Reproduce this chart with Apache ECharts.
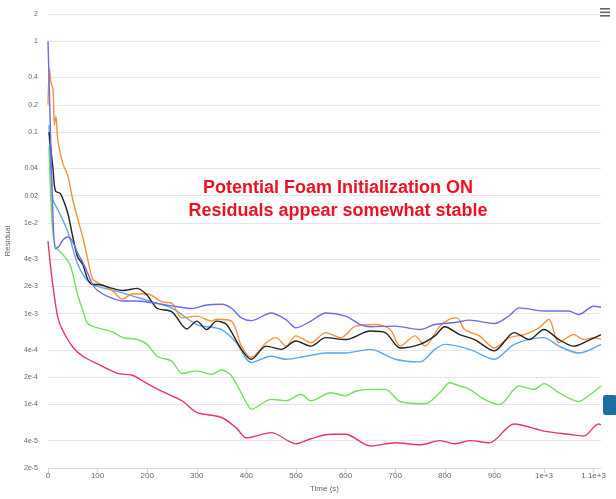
<!DOCTYPE html>
<html><head><meta charset="utf-8">
<script src="https://cdn.jsdelivr.net/npm/echarts@6/dist/echarts.min.js"></script>
<style>html,body{margin:0;padding:0;background:#fff}#c{width:616px;height:499px}</style>
</head><body><div id="c"></div>
<script>
const yTicks = [2e-5,4e-5,1e-4,2e-4,4e-4,1e-3,2e-3,4e-3,1e-2,0.02,0.04,0.1,0.2,0.4,1,2];
const yTickLabels = ['2e-5','4e-5','1e-4','2e-4','4e-4','1e-3','2e-3','4e-3','1e-2','0.02','0.04','0.1','0.2','0.4','1','2'];
const purple = [[0,1],[5,0.1],[10,0.012],[15,5.2e-3],[22,5.5e-3],[30,6.5e-3],[40,7e-3],[50,6.2e-3],[60,4.6e-3],[70,3.7e-3],[80,2.8e-3],[90,2.1e-3],[100,1.8e-3],[120,1.55e-3],[150,1.38e-3],[180,1.38e-3],[210,1.32e-3],[250,1.22e-3],[290,1.14e-3],[320,1.25e-3],[350,1.27e-3],[370,1.15e-3],[390,9e-4],[410,8.4e-4],[450,1.02e-3],[480,8.6e-4],[500,7e-4],[530,8.3e-4],[560,1.02e-3],[600,9.4e-4],[630,7.6e-4],[650,7.2e-4],[700,7.3e-4],[750,6.7e-4],[780,7.6e-4],[820,8e-4],[850,8.5e-4],[900,7.8e-4],[930,9.5e-4],[950,1.16e-3],[1000,1.07e-3],[1050,1.07e-3],[1070,9.8e-4],[1100,1.21e-3],[1115,1.18e-3]];
const orange = [[0,0.2],[3,0.5],[6,0.35],[10,0.3],[13,0.12],[16,0.15],[20,0.08],[30,0.045],[40,0.033],[50,0.018],[60,0.011],[70,7e-3],[80,4e-3],[90,2.4e-3],[100,2.2e-3],[130,1.8e-3],[150,1.45e-3],[170,1.65e-3],[200,1.65e-3],[230,1.35e-3],[250,1.3e-3],[270,9e-4],[300,9.4e-4],[330,8.3e-4],[340,8.7e-4],[370,8.3e-4],[390,4.4e-4],[410,3.3e-4],[440,4.8e-4],[460,5.45e-4],[480,4.4e-4],[500,5.7e-4],[530,4.8e-4],[560,6.2e-4],[590,5.45e-4],[620,7.3e-4],[660,7.6e-4],[690,6.7e-4],[710,4.4e-4],[740,5.7e-4],[760,4.4e-4],[790,7.3e-4],[810,8.7e-4],[825,9e-4],[840,6.7e-4],[870,5.7e-4],[900,4.2e-4],[930,5.45e-4],[960,5.9e-4],[990,7e-4],[1010,8.7e-4],[1030,4.8e-4],[1060,5.9e-4],[1080,5.2e-4],[1100,5.45e-4],[1115,5.2e-4]];
const black = [[2,0.1],[10,0.04],[15,0.0225],[25,0.021],[40,0.0127],[50,7e-3],[60,4.2e-3],[70,3.5e-3],[80,2.4e-3],[90,2.1e-3],[100,2.1e-3],[130,1.9e-3],[150,1.8e-3],[180,1.9e-3],[200,1.6e-3],[220,1.15e-3],[250,1.05e-3],[280,6.8e-4],[300,8.3e-4],[320,6.7e-4],[340,8.3e-4],[360,7.6e-4],[390,4.05e-4],[410,3.15e-4],[440,4.4e-4],[470,4.05e-4],[500,5e-4],[530,4.4e-4],[560,5.45e-4],[600,5.2e-4],[650,6.45e-4],[680,6.2e-4],[710,4.2e-4],[750,4.6e-4],[780,5.7e-4],[800,7.2e-4],[830,5.9e-4],[860,5.2e-4],[900,3.9e-4],[940,6.2e-4],[970,5.2e-4],[1000,6.7e-4],[1030,5.2e-4],[1060,4.4e-4],[1090,5.1e-4],[1115,5.9e-4]];
const lightBlue = [[2,0.12],[10,0.018],[20,0.014],[40,8e-3],[60,3.5e-3],[80,2.3e-3],[100,2e-3],[150,1.7e-3],[200,1.4e-3],[250,1.15e-3],[300,7.6e-4],[350,6.7e-4],[380,4.8e-4],[410,2.9e-4],[450,3.4e-4],[480,3.15e-4],[520,3.4e-4],[560,3.7e-4],[600,3.7e-4],[650,4.05e-4],[700,3.15e-4],[750,2.95e-4],[780,4.05e-4],[800,4.6e-4],[850,4.05e-4],[900,3.15e-4],[940,4.6e-4],[1000,5.45e-4],[1030,4.4e-4],[1070,3.7e-4],[1115,4.6e-4]];
const green = [[2,0.07],[8,0.0105],[15,5.5e-3],[30,4.5e-3],[45,3.4e-3],[60,1.6e-3],[70,1.1e-3],[80,7.8e-4],[100,7e-4],[130,6.3e-4],[150,5.5e-4],[180,5.2e-4],[200,4.6e-4],[220,3.4e-4],[250,3e-4],[270,2.2e-4],[300,2.35e-4],[330,2.15e-4],[350,2.4e-4],[370,2.07e-4],[400,1.05e-4],[410,8.9e-5],[450,1.14e-4],[480,1.1e-4],[510,1.3e-4],[530,1.1e-4],[570,1.35e-4],[600,1.25e-4],[620,1.4e-4],[650,1.47e-4],[680,1.47e-4],[710,1.08e-4],[760,1.02e-4],[790,1.35e-4],[810,1.74e-4],[830,1.6e-4],[850,1.47e-4],[880,1.14e-4],[910,1.0e-4],[950,1.6e-4],[980,1.47e-4],[1000,1.7e-4],[1030,1.35e-4],[1070,1.08e-4],[1090,1.25e-4],[1115,1.6e-4]];
const red = [[0,6.3e-3],[3,4.3e-3],[10,2e-3],[20,9e-4],[30,6.5e-4],[50,4.3e-4],[70,3.4e-4],[100,2.8e-4],[140,2.2e-4],[170,2.1e-4],[200,1.7e-4],[230,1.4e-4],[270,1.1e-4],[300,8.2e-5],[350,7.2e-5],[380,5.5e-5],[400,4.3e-5],[450,4.9e-5],[500,3.7e-5],[530,4.2e-5],[570,4.7e-5],[600,4.7e-5],[650,3.5e-5],[700,3.8e-5],[750,3.6e-5],[790,4e-5],[820,3.7e-5],[850,4e-5],[890,3.8e-5],[940,6.1e-5],[1000,5.1e-5],[1050,4.7e-5],[1080,4.5e-5],[1110,6.1e-5],[1115,6e-5]];

function mk(data,color){return {type:'line',data:data,smooth:0.3,showSymbol:false,lineStyle:{color:color,width:1.4},itemStyle:{color:color}};}
const chart = echarts.init(document.getElementById('c'));
chart.setOption({
  animation:false,
  grid:{left:48,right:15,top:14,bottom:31,containLabel:false,outerBoundsMode:'none'},
  title:{text:'Potential Foam Initialization ON\nResiduals appear somewhat stable',left:333,top:172,textAlign:'center',
    textStyle:{color:'#ee1122',fontSize:18,fontWeight:'bold',fontFamily:'Liberation Sans',lineHeight:23}},
  xAxis:{type:'value',min:0,max:1115,interval:100,name:'Time (s)',nameLocation:'middle',nameGap:13,
    nameTextStyle:{fontSize:8,color:'#666'},
    axisLine:{lineStyle:{color:'#ccd6eb'}},axisTick:{show:true,lineStyle:{color:'#ccd6eb'}},splitLine:{show:false},
    axisLabel:{fontSize:8,color:'#666',margin:4,formatter:v=>v>=1000?(v/1000)+'e+3':String(v)}},
  yAxis:{type:'log',logBase:10,min:2e-5,max:2,name:'Residual',nameLocation:'middle',nameGap:36,
    nameTextStyle:{fontSize:8,color:'#666'},
    axisLine:{show:false},axisTick:{show:false,customValues:yTicks},
    axisLabel:{fontSize:7,color:'#666',margin:10,customValues:yTicks,formatter:v=>{let b=0,d=1e9;yTicks.forEach((t,i)=>{const e=Math.abs(Math.log10(t)-Math.log10(v));if(e<d){d=e;b=i;}});return yTickLabels[b];}},
    splitLine:{show:true,lineStyle:{color:'#e6e6e6'}}},
  graphic:[
    {type:'group',right:6,top:8,children:[
      {type:'rect',shape:{x:0,y:0,width:10,height:1.6},style:{fill:'#666'}},
      {type:'rect',shape:{x:0,y:3.5,width:10,height:1.6},style:{fill:'#666'}},
      {type:'rect',shape:{x:0,y:7,width:10,height:1.6},style:{fill:'#666'}}]},
    {type:'rect',left:603,top:395,shape:{width:14,height:20,r:3},style:{fill:'#1a6fa0'}}
  ],
  series:[mk(red,'#e8336b'),mk(green,'#72e05a'),mk(lightBlue,'#5ba8ec'),mk(orange,'#f7913a'),mk(black,'#222222'),mk(purple,'#6b6be8')]
});
</script></body></html>
